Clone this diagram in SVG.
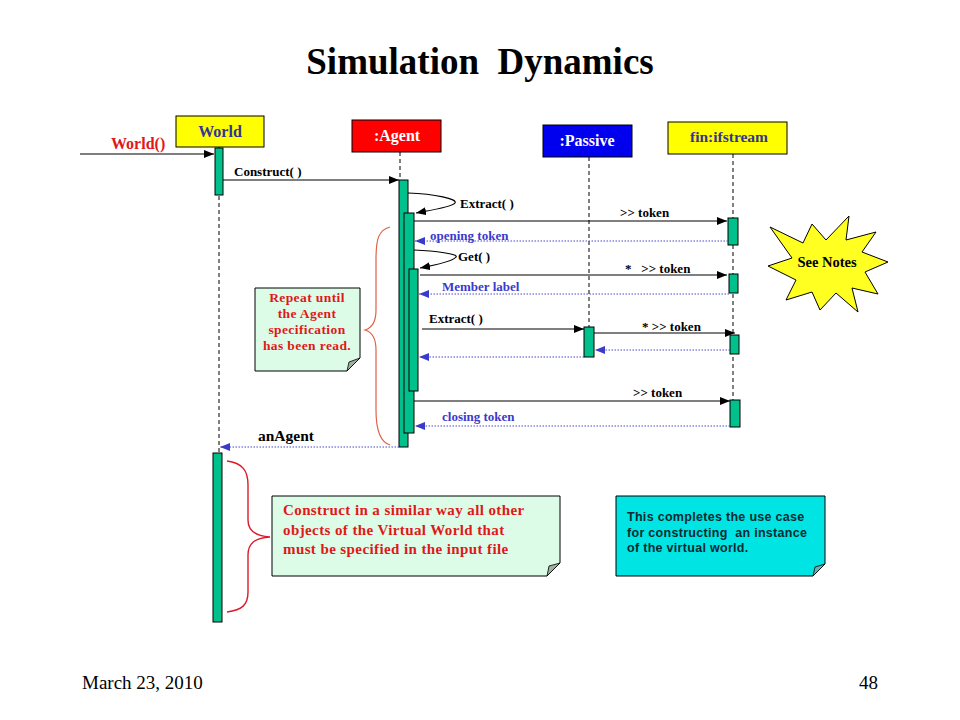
<svg xmlns="http://www.w3.org/2000/svg" width="960" height="720" viewBox="0 0 960 720">
<defs>
<style>
.ser{font-family:"Liberation Serif","Times New Roman",serif;font-weight:bold}
.lbl{font-size:13px;fill:#000}
.blu{font-size:13px;fill:#3a3acc}
.act{fill:#00c08c;stroke:#000;stroke-width:1}
.life{stroke:#000;stroke-width:1;stroke-dasharray:4 3;fill:none}
.msg{stroke:#000;stroke-width:1.2;fill:none;marker-end:url(#ah)}
.ret{stroke:#4848cc;stroke-width:1;stroke-dasharray:1.5 1.5;fill:none;marker-end:url(#bh)}
.note{fill:#dcfce8;stroke:#000;stroke-width:1}
.fold{fill:#9cb0a4;stroke:#000;stroke-width:0.8}
.red{fill:#e01818}
</style>
<marker id="ah" viewBox="0 0 10 8" refX="10" refY="4" markerWidth="10" markerHeight="8" markerUnits="userSpaceOnUse" orient="auto"><path d="M0,0 L10,4 L0,8 Z" fill="#000"/></marker>
<marker id="bh" viewBox="0 0 10 8" refX="10" refY="4" markerWidth="10" markerHeight="8" markerUnits="userSpaceOnUse" orient="auto"><path d="M0,0 L10,4 L0,8 Z" fill="#3a3acc"/></marker>
</defs>
<rect width="960" height="720" fill="#fff"/>
<text x="480" y="74" text-anchor="middle" class="ser" font-size="37" fill="#000" xml:space="preserve">Simulation  Dynamics</text>

<g id="lifelines">
<line x1="219" y1="147" x2="219" y2="453" class="life"/>
<line x1="400" y1="152" x2="400" y2="180" class="life"/>
<line x1="589" y1="157" x2="589" y2="327" class="life"/>
<line x1="733" y1="154" x2="733" y2="400" class="life"/>
</g>

<g id="world">
<rect x="176" y="116" width="88" height="31" fill="#ffff00" stroke="#000"/>
<text x="220" y="137" text-anchor="middle" class="ser" font-size="16" fill="#333399">World</text>
</g>
<g id="agent">
<rect x="352" y="120" width="89" height="32" fill="#ff0000" stroke="#000"/>
<text x="397" y="141" text-anchor="middle" class="ser" font-size="16" fill="#fff">:Agent</text>
</g>
<g id="passive">
<rect x="543" y="125" width="89" height="32" fill="#0000ee" stroke="#000"/>
<text x="587" y="146" text-anchor="middle" class="ser" font-size="16" fill="#fff">:Passive</text>
</g>
<g id="fin">
<rect x="668" y="122" width="119" height="32" fill="#ffff00" stroke="#000"/>
<text x="729" y="142" text-anchor="middle" class="ser" font-size="15.5" fill="#333399">fin:ifstream</text>
</g>

<g id="activations">
<rect x="215" y="148" width="8" height="47" class="act"/>
<rect x="213" y="453" width="9" height="169" class="act"/>
<rect x="399" y="180" width="9" height="267" class="act"/>
<rect x="404" y="213" width="10" height="220" class="act"/>
<rect x="409" y="269" width="9" height="122" class="act"/>
<rect x="584" y="327" width="10" height="30" class="act"/>
<rect x="728" y="218" width="10" height="27" class="act"/>
<rect x="729" y="274" width="9" height="19" class="act"/>
<rect x="730" y="335" width="9" height="19" class="act"/>
<rect x="730" y="400" width="10" height="27" class="act"/>
</g>

<g id="connectors">
<line x1="80" y1="154" x2="214" y2="154" class="msg"/>
<line x1="223" y1="180" x2="399" y2="180" class="msg"/>
<path d="M408,193 C435,194 458,199 455,203 C452,207 432,210 416,213" class="msg"/>
<line x1="414" y1="221" x2="727" y2="221" class="msg"/>
<line x1="728" y1="241" x2="415" y2="241" class="ret"/>
<path d="M414,250 C435,251 459,254 456,257 C453,261 436,265 420,268" class="msg"/>
<line x1="420" y1="275" x2="727" y2="275" class="msg"/>
<line x1="729" y1="294" x2="419" y2="294" class="ret"/>
<line x1="422" y1="329" x2="584" y2="329" class="msg"/>
<line x1="594" y1="333" x2="735" y2="333" class="msg"/>
<line x1="730" y1="350" x2="595" y2="350" class="ret"/>
<line x1="584" y1="357" x2="419" y2="357" class="ret"/>
<line x1="414" y1="401" x2="730" y2="401" class="msg"/>
<line x1="730" y1="426" x2="415" y2="426" class="ret"/>
<line x1="399" y1="447" x2="220" y2="447" class="ret"/>
</g>

<g id="labels">
<text x="111" y="149" class="ser" font-size="16" fill="#e01818">World()</text>
<text x="234" y="176" class="ser lbl" font-size="13.5">Construct( )</text>
<text x="460" y="208" class="ser lbl">Extract( )</text>
<text x="620" y="217" class="ser lbl">&gt;&gt; token</text>
<text x="430" y="240" class="ser blu">opening token</text>
<text x="458" y="261" class="ser lbl">Get( )</text>
<text x="625" y="273" class="ser lbl" xml:space="preserve">*   &gt;&gt; token</text>
<text x="442" y="291" class="ser blu">Member label</text>
<text x="429" y="323" class="ser lbl">Extract( )</text>
<text x="642" y="331" class="ser lbl">* &gt;&gt; token</text>
<text x="633" y="397" class="ser lbl">&gt;&gt; token</text>
<text x="442" y="421" class="ser blu">closing token</text>
<text x="258" y="441" class="ser" font-size="15.5" fill="#000">anAgent</text>
</g>

<g id="brace1">
<path d="M390,227 C378,230 376,240 376,260 L376,310 C376,322 372,328 365,330 C372,332 376,338 376,350 L376,410 C376,430 380,442 390,445" fill="none" stroke="#e06048" stroke-width="1.2"/>
</g>
<g id="brace2">
<path d="M227,461 C242,463 248,470 248,485 L248,520 C248,530 254,536 270,537 C254,538 248,544 248,555 L248,592 C248,605 242,610 227,612" fill="none" stroke="#dd1a2a" stroke-width="1.4"/>
</g>

<g id="note-repeat">
<path d="M255,288 H360 V358 L347,371 H255 Z" class="note"/>
<path d="M360,358 L347,371 L349,362 Z" class="fold"/>
<text class="ser red" font-size="13.5" letter-spacing="0.4" text-anchor="middle"><tspan x="307" y="302">Repeat until</tspan><tspan x="307" y="318">the Agent</tspan><tspan x="307" y="334">specification</tspan><tspan x="307" y="350">has been read.</tspan></text>
</g>

<g id="note-construct">
<path d="M272,496 H560 V563 L547,576 H272 Z" class="note"/>
<path d="M560,563 L547,576 L549,566 Z" class="fold"/>
<text class="ser red" font-size="15" letter-spacing="0.4"><tspan x="283" y="515">Construct in a similar way all other</tspan><tspan x="283" y="535">objects of the Virtual World that</tspan><tspan x="283" y="554">must be specified in the input file</tspan></text>
</g>

<g id="note-complete">
<path d="M616,496 H825 V564 L813,576 H616 Z" fill="#00e4e4" stroke="#000"/>
<path d="M825,564 L813,576 L815,567 Z" fill="#6ab0b0" stroke="#000" stroke-width="0.8"/>
<text font-family="Liberation Sans,Arial,sans-serif" font-weight="bold" font-size="12.5" letter-spacing="0.3" fill="#0a2a30" xml:space="preserve"><tspan x="627" y="521">This completes the use case</tspan><tspan x="627" y="537">for constructing  an instance</tspan><tspan x="627" y="552">of the virtual world.</tspan></text>
</g>

<g id="see-notes">
<polygon points="770,227 803,243 812,224 826,240 849,216 846,240 876,232 862,252 888,262 865,272 878,294 852,288 858,312 836,293 820,310 812,292 786,300 796,280 768,266 792,258" fill="#ffff22" stroke="#000" stroke-width="1"/>
<text x="827" y="267" text-anchor="middle" class="ser" font-size="14.5" fill="#000">See Notes</text>
</g>

<text x="82" y="689" font-family="Liberation Serif,Times New Roman,serif" font-size="19" fill="#000">March 23, 2010</text>
<text x="878" y="689" text-anchor="end" font-family="Liberation Serif,Times New Roman,serif" font-size="19" fill="#000">48</text>
</svg>
